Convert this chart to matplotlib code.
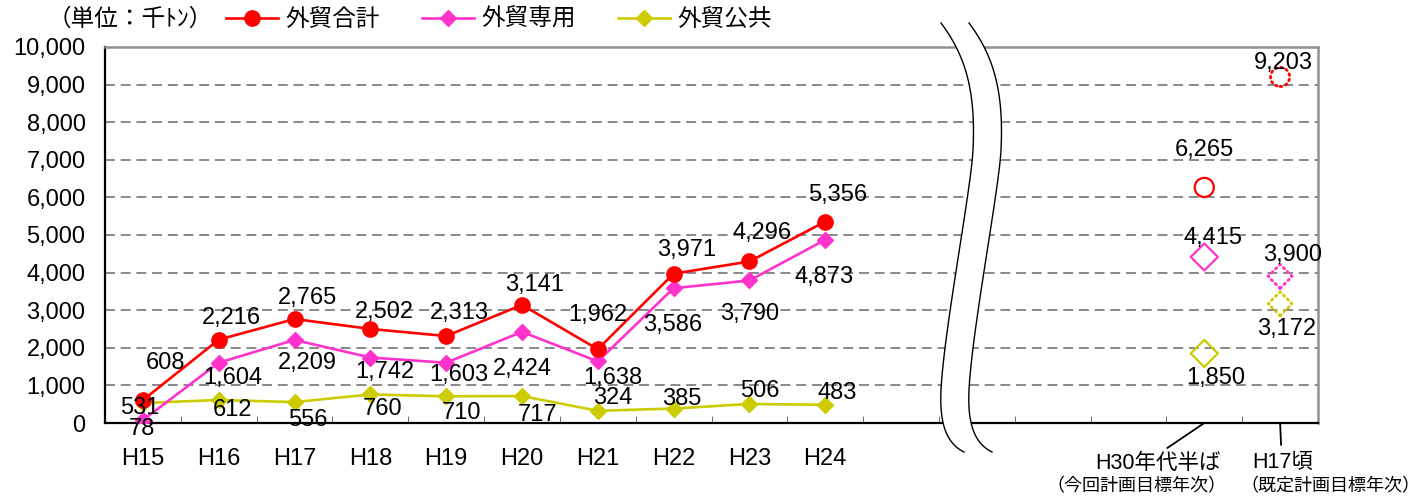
import numpy as np
import matplotlib
matplotlib.use('Agg')
import matplotlib.pyplot as plt
from matplotlib.patches import Polygon
from matplotlib.lines import Line2D
from matplotlib.transforms import Affine2D

plt.rcParams['font.family'] = ['Liberation Sans', 'Noto Sans CJK JP', 'DejaVu Sans']

# 外貿貨物量（千トン）
years = ['H15', 'H16', 'H17', 'H18', 'H19', 'H20', 'H21', 'H22', 'H23', 'H24']
total = [608, 2216, 2765, 2502, 2313, 3141, 1962, 3971, 4296, 5356]
private = [78, 1604, 2209, 1742, 1603, 2424, 1638, 3586, 3790, 4873]
public = [531, 612, 556, 760, 710, 717, 324, 385, 506, 483]

# 目標年次の値
goal_names = ['H30年代半ば', 'H17頃']
goal_notes = ['（今回計画目標年次）', '（既定計画目標年次）']
goal_total = [6265, 9203]
goal_private = [4415, 3900]
goal_public = [1850, 3172]

RED = '#FF0000'
PINK = '#FF33CC'
OLIVE = '#CCCC00'

# label offsets in pixels (dx, dy)
off_total = [(23, 37), (13, 22), (13, 21), (14, 17), (13, 23), (13, 20),
             (0, 34), (13, 24), (13, 28), (12, 27)]
off_private = [(-1, -9), (14, -15), (13, -23), (14, -14), (13, -12), (0, -37),
               (15, -17), (-1, -37), (0, -34), (-1, -37)]
off_public = [(-3, -5), (14, -10), (13, -18), (12, -15), (15, -17), (16, -19),
              (15, 13), (8, 10), (10, 13), (12, 12)]
off_goal_total = [(0, 37), (3, 14)]
off_goal_private = [(9, 19), (12, 21)]
off_goal_public = [(11, -25), (7, -25)]

W, H = 1421, 499
FS = 17
fig = plt.figure(figsize=(W / 100, H / 100), dpi=100)
ax = fig.add_axes([105 / W, 1 - 423 / H, 1213 / W, 376 / H])

x = np.arange(len(years))
gx = np.array([14, 15])

ax.plot(x, total, color=RED, lw=1.9, marker='o', ms=11, zorder=5, label='外貿合計')
ax.plot(x, private, color=PINK, lw=1.9, marker='D', ms=8, zorder=4, label='外貿専用')
ax.plot(x, public, color=OLIVE, lw=1.9, marker='D', ms=8, zorder=3, label='外貿公共')

# 目標値（今回: 実線、既定: 点線）
ax.scatter(gx[:1], goal_total[:1], s=190, marker='o', facecolors='none',
           edgecolors=RED, linewidths=1.6, zorder=5)
ax.scatter(gx[:1], goal_private[:1], s=190, marker='D', facecolors='none',
           edgecolors=PINK, linewidths=1.6, zorder=5)
ax.scatter(gx[:1], goal_public[:1], s=190, marker='D', facecolors='none',
           edgecolors=OLIVE, linewidths=1.6, zorder=5)
for vals, mk, col, sz in [(goal_total, 'o', RED, 190), (goal_private, 'D', PINK, 150),
                          (goal_public, 'D', OLIVE, 150)]:
    sc = ax.scatter(gx[1:], vals[1:], s=sz, marker=mk, facecolors='none',
                    edgecolors=col, linewidths=2.0, linestyle=(0, (0.6, 1.4)), zorder=5)
    sc.set_capstyle('round')


def label(xs, vals, offs):
    for xi, v, (dx, dy) in zip(xs, vals, offs):
        ax.annotate(f'{v:,}', (xi, v), xytext=(dx, dy), textcoords='offset pixels',
                    ha='center', va='center', fontsize=FS, zorder=6)


label(x, total, off_total)
label(x, private, off_private)
label(x, public, off_public)
label(gx, goal_total, off_goal_total)
label(gx, goal_private, off_goal_private)
label(gx, goal_public, off_goal_public)

ax.set_xlim(-0.5, 15.5)
ax.set_ylim(0, 10000)
ax.set_yticks(np.arange(0, 10001, 1000))
ax.set_yticklabels([f'{v:,}' for v in range(0, 10001, 1000)], fontsize=FS)
ax.tick_params(axis='y', length=0, pad=14)
ax.set_xticks(x)
ax.set_xticklabels(years, fontsize=FS)
ax.set_xticks(np.arange(0.5, 15, 1), minor=True)
ax.tick_params(axis='x', which='major', length=0, pad=18)
ax.tick_params(axis='x', which='minor', direction='in', length=5, color='#555555')

for v in range(1000, 10000, 1000):
    ax.axhline(v, color='#808080', lw=1.3, ls=(0, (5.5, 3.2)), zorder=1)

for s in ['top', 'right']:
    ax.spines[s].set_color('#909090')
    ax.spines[s].set_linewidth(1.8)
for s in ['left', 'bottom']:
    ax.spines[s].set_color('#000000')
    ax.spines[s].set_linewidth(1.6)

# 目標年次ラベルと引出し線
for xi, name, note, (lx, ly), (nx, ny), seg in zip(
        gx, goal_names, goal_notes, [(-46, -40), (3, -40)], [(-68, -64), (50, -64)],
        [((-3, 0), (-37, -25)), ((-7, -4), (1, -22))]):
    ax.annotate(name, (xi, 0), xytext=(lx, ly), textcoords='offset pixels',
                ha='center', va='center', fontsize=15.5, annotation_clip=False)
    ax.annotate(note, (xi, 0), xytext=(nx, ny), textcoords='offset pixels',
                ha='center', va='center', fontsize=13, annotation_clip=False)
    ax.annotate('', (xi, 0), xytext=seg[1], textcoords='offset pixels',
                arrowprops=dict(arrowstyle='-', color='black', lw=1.3,
                                shrinkA=0, shrinkB=0, relpos=(0.5, 0.5)),
                annotation_clip=False)

# 軸の省略記号（波線）
px = Affine2D().scale(1 / W, -1 / H).translate(0, 1) + fig.transFigure


def bezier(p0, p1, p2, p3, n=40):
    t = np.linspace(0, 1, n)[:, None]
    return ((1 - t) ** 3 * np.array(p0) + 3 * (1 - t) ** 2 * t * np.array(p1)
            + 3 * (1 - t) * t ** 2 * np.array(p2) + t ** 3 * np.array(p3))


wave = np.vstack([
    bezier((941, 23), (965, 55), (976, 90), (973, 150)),
    bezier((973, 150), (971, 190), (944, 330), (941, 390)),
    bezier((941, 390), (939, 430), (950, 445), (964, 452)),
])
wave_r = wave + np.array([28, 0])
fig.add_artist(Polygon(np.vstack([wave, wave_r[::-1]]), closed=True,
                       facecolor='white', edgecolor='none', transform=px, zorder=3))
for w in (wave, wave_r):
    fig.add_artist(Line2D(w[:, 0], w[:, 1], color='black', lw=1.0, transform=px, zorder=4))

fig.text(48 / W, 1 - 20 / H, '（単位：千ﾄﾝ）', fontsize=17, ha='left', va='center')
fig.legend(loc='center left', bbox_to_anchor=(226 / W, 1 - 20 / H), ncol=3,
           frameon=False, fontsize=17, handlelength=2.2, handletextpad=0.3,
           columnspacing=1.8, borderaxespad=0, borderpad=0)

fig.savefig('out.png', dpi=100)
